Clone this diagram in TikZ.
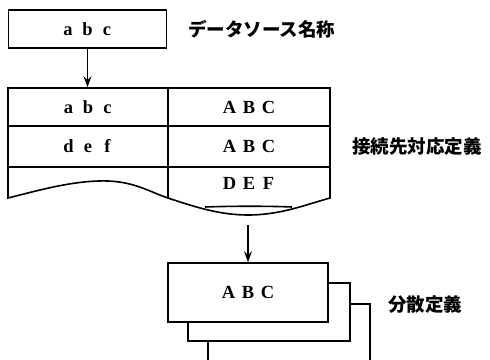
\documentclass[tikz,border=0pt]{standalone}
\usepackage{fontspec}
\setmainfont{Liberation Serif}
\newfontfamily\cjk{Noto Sans CJK JP}
\usetikzlibrary{arrows.meta}
\newcommand\fwc[1]{\makebox[19.5pt]{#1}}
\tikzset{
  cell/.style={draw, line width=1.6pt, inner sep=0pt, font=\fontsize{18.5}{22}\selectfont\bfseries},
  txt/.style={inner sep=0pt, font=\fontsize{18.5}{22}\selectfont\bfseries},
  lbl/.style={anchor=west, inner sep=0pt, font=\cjk\bfseries\fontsize{18.5}{22}\selectfont},
  conn/.style={line width=1.6pt, -{Stealth[length=11pt,width=8pt,inset=4pt]}},
  ln/.style={line width=1.6pt}
}
\begin{document}
\begin{tikzpicture}[x=1pt,y=-1pt]
\clip (0,0) rectangle (490,359);
\fill[white] (0,0) rectangle (490,359);
% data source box
\node[cell, minimum width=158pt, minimum height=38pt] (src) at (87.5,29) {\fwc{a}\fwc{b}\fwc{c}};
\node[lbl] (l1) at (188,29) {データソース名称};
% table rows
\node[cell, minimum width=160pt, minimum height=38pt] (r1l) at (88,107) {\fwc{a}\fwc{b}\fwc{c}};
\node[cell, minimum width=162pt, minimum height=38pt] (r1r) at (249,107) {\fwc{A}\fwc{B}\fwc{C}};
\node[cell, minimum width=160pt, minimum height=41pt] (r2l) at (88,146.5) {\fwc{d}\fwc{e}\fwc{f}};
\node[cell, minimum width=162pt, minimum height=41pt] (r2r) at (249,146.5) {\fwc{A}\fwc{B}\fwc{C}};
\node[txt] (r3r) at (249,183) {\fwc{D}\fwc{E}\fwc{F}};
\node[lbl] (l2) at (352,147) {接続先対応定義};
% third row with wavy bottom
\draw[ln] (8,167) -- (8,198)
  .. controls (40,190) and (75,180) .. (108,181)
  .. controls (135,182) and (150,192) .. (168,198)
  .. controls (195,207) and (220,215) .. (248,215)
  .. controls (280,215) and (305,205) .. (330,198) -- (330,167);
\draw[ln] (168,167) -- (168,198);
\draw[ln] (205,207) .. controls (230,206) and (270,206) .. (292,207);
% arrows
\draw[conn] (src.south) -- (src.south |- r1l.north);
\coordinate (a2) at (248,225);
% distributed boxes
\node[cell, fill=white, minimum width=162pt, minimum height=76pt] (b3) at (289,342) {};
\node[cell, fill=white, minimum width=162pt, minimum height=58pt] (b2) at (269,312) {};
\node[cell, fill=white, minimum width=160pt, minimum height=59pt] (b1) at (248,292.5) {\fwc{A}\fwc{B}\fwc{C}};
\draw[conn] (a2) -- (b1.north);
\node[lbl] (l3) at (388,305) {分散定義};
\end{tikzpicture}
\end{document}
